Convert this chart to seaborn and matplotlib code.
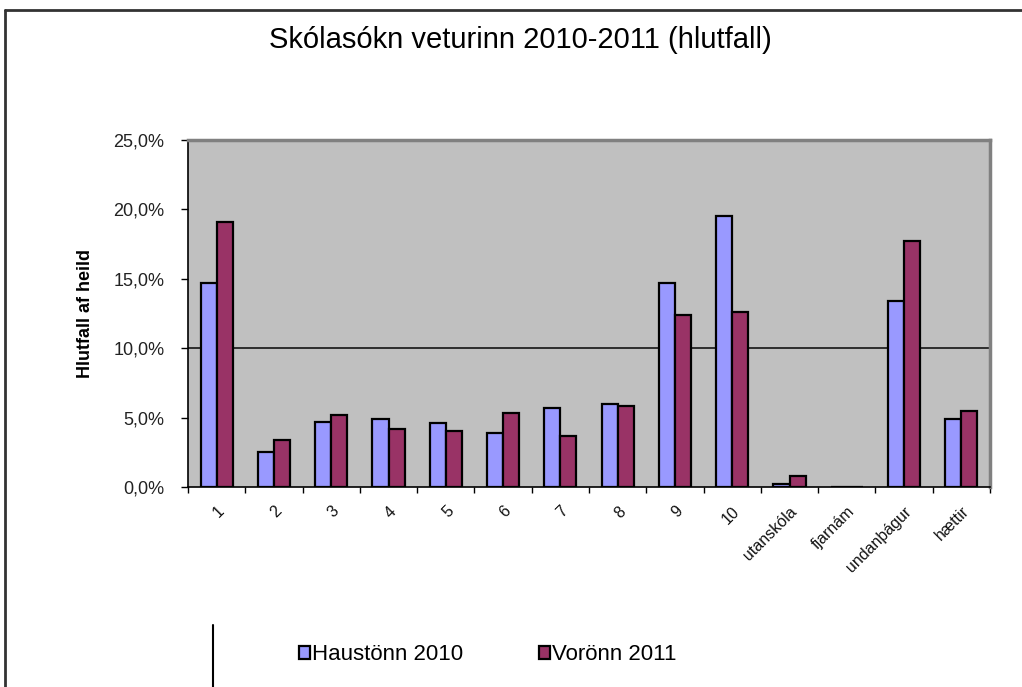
import pandas as pd
import matplotlib.pyplot as plt
import seaborn as sns
from matplotlib.lines import Line2D
from matplotlib.ticker import FuncFormatter, FixedLocator

# Data (percent of total)
flokkar = ['1', '2', '3', '4', '5', '6', '7', '8', '9', '10',
           'utanskóla', 'fjarnám', 'undanþágur', 'hættir']
haustonn_2010 = [14.7, 2.5, 4.65, 4.9, 4.6, 3.9, 5.7, 6.0, 14.7, 19.5, 0.25, 0.0, 13.4, 4.9]
voronn_2011 = [19.1, 3.4, 5.2, 4.2, 4.0, 5.35, 3.7, 5.8, 12.4, 12.6, 0.8, 0.0, 17.7, 5.5]
onn_names = ['Haustönn 2010', 'Vorönn 2011']
y_ticks = [0, 5, 10, 15, 20, 25]

df = pd.DataFrame({
    'flokkur': flokkar * 2,
    'hlutfall': haustonn_2010 + voronn_2011,
    'önn': [onn_names[0]] * len(flokkar) + [onn_names[1]] * len(flokkar),
})

sns.set_theme(style="white")
plt.rcParams['font.family'] = ['Liberation Sans', 'DejaVu Sans']

fig = plt.figure(figsize=(10.22, 6.87), dpi=100)
ax = fig.add_axes([188 / 1022, 1 - 487 / 687, (990 - 188) / 1022, (487 - 140) / 687])
ax.set_facecolor('#c0c0c0')

sns.barplot(data=df, x='flokkur', y='hlutfall', hue='önn',
            palette=['#9999ff', '#993366'], saturation=1, width=0.56,
            edgecolor='black', linewidth=1.6, ax=ax)

# only the 10% gridline shows in the original
ax.axhline(10, color='#222222', lw=1.3, zorder=0.5)

ax.set_xlim(-0.5, len(flokkar) - 0.5)
ax.set_ylim(0, 25)
ax.yaxis.set_major_locator(FixedLocator(y_ticks))
ax.yaxis.set_major_formatter(FuncFormatter(lambda v, p: f"{v:.1f}%".replace('.', ',')))
ax.tick_params(axis='y', direction='out', length=5, width=1, color='black',
               labelsize=13, labelcolor='#222222', left=True, pad=12)

# category boundary ticks, labels at centres
ax.set_xticks([i - 0.5 for i in range(len(flokkar) + 1)], minor=True)
ax.tick_params(axis='x', which='minor', direction='out', length=4, width=1, color='black', bottom=True)
ax.tick_params(axis='x', which='major', length=0, labelsize=11.5, pad=12)
ax.set_xticks(range(len(flokkar)))
ax.set_xticklabels(flokkar, rotation=45, ha='right', rotation_mode='anchor', color='#111111')

ax.set_xlabel('')
ax.set_ylabel('Hlutfall af heild', fontsize=13, fontweight='bold', labelpad=14, color='black')

for side in ['left', 'bottom']:
    ax.spines[side].set_color('black')
    ax.spines[side].set_linewidth(1.2)
for side in ['top', 'right']:
    ax.spines[side].set_color('#808080')
    ax.spines[side].set_linewidth(2.5)

handles, labels = ax.get_legend_handles_labels()
ax.get_legend().remove()
fig.legend(handles, labels, loc='center', bbox_to_anchor=(488 / 1022, 1 - 655 / 687),
           ncol=2, frameon=False, fontsize=16, handlelength=0.5, handleheight=0.5,
           handletextpad=0.1, columnspacing=3.4, labelcolor='black')

fig.text(520 / 1022, 1 - 40 / 687, 'Skólasókn veturinn 2010-2011 (hlutfall)',
         ha='center', va='center', fontsize=21, color='black')

# outer frame of the cropped chart
fig.add_artist(Line2D([5 / 1022, 5 / 1022], [0, 1 - 10 / 687], transform=fig.transFigure,
                      color='#333333', lw=2))
fig.add_artist(Line2D([5 / 1022, 1], [1 - 10 / 687, 1 - 10 / 687], transform=fig.transFigure,
                      color='#333333', lw=2))
fig.add_artist(Line2D([213 / 1022, 213 / 1022], [0, 1 - 625 / 687], transform=fig.transFigure,
                      color='black', lw=1.5))

fig.savefig('out.png', dpi=100, facecolor='white')
